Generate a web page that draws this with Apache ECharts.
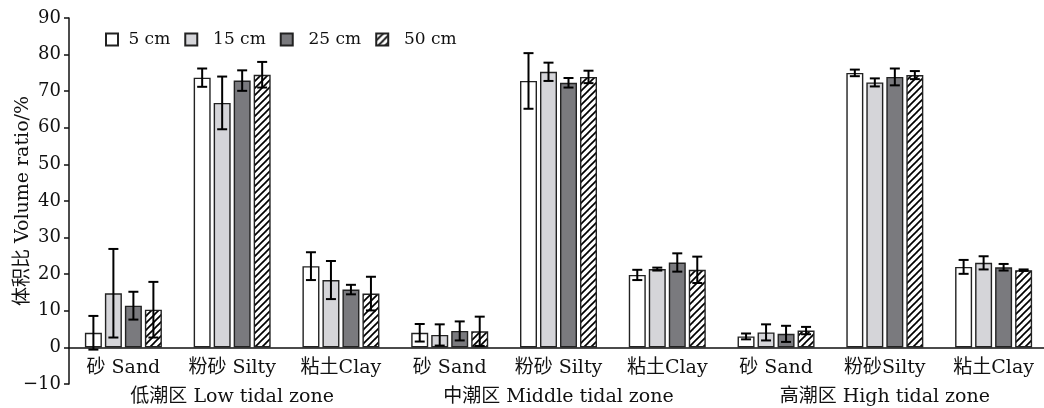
<!DOCTYPE html>
<html>
<head>
<meta charset="utf-8">
<script src="https://cdn.jsdelivr.net/npm/echarts@6/dist/echarts.min.js"></script>
<style>html,body{margin:0;padding:0;background:#fff}#c{width:1044px;height:408px}</style>
</head>
<body>
<div id="c"></div>
<script>
var categories = ['砂 Sand','粉砂 Silty','粘土Clay','砂 Sand','粉砂 Silty','粘土Clay','砂 Sand','粉砂Silty','粘土Clay'];
var zones = ['低潮区 Low tidal zone','中潮区 Middle tidal zone','高潮区 High tidal zone'];
var depths = ['5 cm','15 cm','25 cm','50 cm'];
var v5  = [4.0, 73.7, 22.2, 4.0, 72.8, 19.8, 3.0, 75.0, 22.0];
var e5  = [4.6, 2.5, 3.8, 2.4, 7.6, 1.4, 0.8, 0.9, 1.9];
var v15 = [14.8, 66.8, 18.4, 3.4, 75.3, 21.4, 4.1, 72.4, 23.1];
var e15 = [12.1, 7.2, 5.2, 2.9, 2.5, 0.4, 2.2, 1.1, 1.8];
var v25 = [11.4, 72.9, 15.8, 4.5, 72.3, 23.2, 3.7, 73.9, 21.9];
var e25 = [3.8, 2.8, 1.3, 2.6, 1.3, 2.5, 2.2, 2.3, 0.9];
var v50 = [10.3, 74.5, 14.7, 4.4, 73.9, 21.2, 4.6, 74.4, 21.1];
var e50 = [7.6, 3.5, 4.6, 4.0, 1.7, 3.6, 1.0, 1.1, 0.2];
var yTicks = [-10, 0, 10, 20, 30, 40, 50, 60, 70, 80, 90];

var FONT = "'DejaVu Serif', 'Noto Sans CJK SC', serif";
var INK = '#111';

function hatch() {
  var c = document.createElement('canvas');
  c.width = 7; c.height = 7;
  var g = c.getContext('2d');
  g.fillStyle = '#fff'; g.fillRect(0, 0, 7, 7);
  g.strokeStyle = '#000'; g.lineWidth = 1.7;
  [[-2, 9, 9, -2], [-9, 9, 2, -2], [5, 9, 16, -2]].forEach(function (l) {
    g.beginPath(); g.moveTo(l[0], l[1]); g.lineTo(l[2], l[3]); g.stroke();
  });
  return c;
}

var values = [v5, v15, v25, v50];
var errors = [e5, e15, e25, e50];
var fills = ['#ffffff', '#d5d5d9', '#7a7a7e', {image: hatch(), repeat: 'repeat'}];
var BW = 17, GAP = 3;

var GRID_TOP = 18, GRID_BOTTOM = 24, H = 408;
var yMin = yTicks[0], yMax = yTicks[yTicks.length - 1];
var zeroOffset = -(H - GRID_TOP - GRID_BOTTOM) * (0 - yMin) / (yMax - yMin);

var series = [];
values.forEach(function (vals, k) {
  series.push({
    name: depths[k], type: 'bar', data: vals, barWidth: BW, barGap: (GAP / BW * 100) + '%',
    itemStyle: {color: fills[k], borderColor: '#222', borderWidth: 1.4},
    z: 2
  });
});
values.forEach(function (vals, k) {
  var off = (k - 1.5) * (BW + GAP);
  series.push({
    type: 'custom', z: 5, silent: true,
    data: vals.map(function (v, i) { return [i, v, errors[k][i]]; }),
    renderItem: function (params, api) {
      var i = api.value(0), v = api.value(1), e = api.value(2);
      var top = api.coord([i, v + e]);
      var bot = api.coord([i, v - e]);
      var x = top[0] + off, h = 5;
      var st = {stroke: '#000', lineWidth: 2};
      return {type: 'group', children: [
        {type: 'line', shape: {x1: x, y1: top[1], x2: x, y2: bot[1]}, style: st},
        {type: 'line', shape: {x1: x - h, y1: top[1], x2: x + h, y2: top[1]}, style: st},
        {type: 'line', shape: {x1: x - h, y1: bot[1], x2: x + h, y2: bot[1]}, style: st}
      ]};
    }
  });
});

var chart = echarts.init(document.getElementById('c'), null, {renderer: 'canvas'});
chart.setOption({
  animation: false,
  backgroundColor: '#fff',
  textStyle: {fontFamily: FONT, color: INK},
  grid: {left: 69, top: GRID_TOP, width: 979, bottom: GRID_BOTTOM, outerBoundsMode: 'none', containLabel: false},
  legend: {
    data: depths, left: 100, top: 26, itemWidth: 12, itemHeight: 12, itemGap: 14,
    icon: 'rect',
    formatter: function (n) { return n === '5 cm' ? ' ' + n : '  ' + n; },
    textStyle: {fontFamily: FONT, fontSize: 17, color: INK}
  },
  xAxis: [{
    type: 'category', data: categories, position: 'bottom', offset: zeroOffset,
    axisLine: {onZero: false, lineStyle: {color: INK, width: 1.5}},
    axisTick: {inside: true, length: 6, interval: 0, lineStyle: {color: INK, width: 1.5}},
    axisLabel: {interval: 0, margin: 11, fontSize: 19, color: INK, fontFamily: FONT}
  }, {
    type: 'category', data: zones, position: 'bottom',
    axisLine: {show: false, onZero: false}, axisTick: {show: false},
    axisLabel: {interval: 0, margin: 4, fontSize: 19, color: INK, fontFamily: FONT}
  }],
  yAxis: {
    type: 'value', min: yMin, max: yMax, interval: 10,
    name: '体积比 Volume ratio/%', nameLocation: 'middle', nameGap: 36, nameMoveOverlap: false,
    nameTextStyle: {fontSize: 19, color: INK, fontFamily: FONT},
    splitLine: {show: false},
    axisLine: {show: true, onZero: false, lineStyle: {color: INK, width: 1.5}},
    axisTick: {show: true, length: 5, lineStyle: {color: INK, width: 1.5}},
    axisLabel: {margin: 8, fontSize: 18, color: INK, fontFamily: FONT,
      formatter: function (v) { return v < 0 ? '\u2212' + Math.abs(v) : String(v); }}
  },
  series: series
});
</script>
</body>
</html>
